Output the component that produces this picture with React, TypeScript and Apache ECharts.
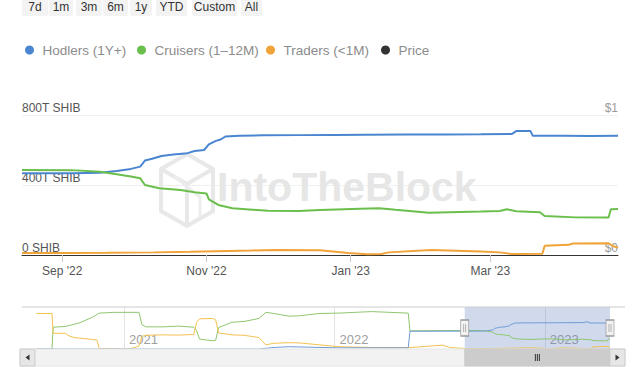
import React, { useEffect, useRef } from "react";
import * as echarts from "echarts";

// ---------- data ----------
const RANGE_BUTTONS = ["7d", "1m", "3m", "6m", "1y", "YTD", "Custom", "All"];
const LEGEND_NAMES = ["Hodlers (1Y+)", "Cruisers (1–12M)", "Traders (<1M)", "Price"];
const SERIES_COLORS = ["#4a86cf", "#6abf4c", "#f0a338", "#333333"];
const NAV_COLORS = ["#6f9bd6", "#8fc66e", "#f2c24e"];

const X_TICKS = ["2022-09-01", "2022-11-01", "2023-01-01", "2023-03-01"];
const NAV_YEAR_TICKS = ["2021-01-01", "2022-01-01", "2023-01-01"];
const Y_LEFT_VALUES = [0, 400, 800];
const Y_LEFT_LABELS = ["0 SHIB", "400T SHIB", "800T SHIB"];
const Y_RIGHT_LABELS = ["$0", "$1"];
const NAV_START = "2020-07-08";

const hodlersDates = ["2022-08-15", "2022-09-05", "2022-09-17", "2022-09-24", "2022-09-30", "2022-10-04", "2022-10-06", "2022-10-09", "2022-10-13", "2022-10-18", "2022-10-24", "2022-10-27", "2022-10-31", "2022-11-02", "2022-11-05", "2022-11-07", "2022-11-09", "2022-11-15", "2022-11-25", "2022-12-10", "2022-12-25", "2023-01-07", "2023-01-25", "2023-02-10", "2023-02-25", "2023-03-10", "2023-03-12", "2023-03-18", "2023-03-19", "2023-04-01", "2023-04-12", "2023-04-24"];
const hodlersValues = [467, 467, 470, 480, 492, 505, 540, 550, 566, 574, 582, 594, 600, 632, 652, 660, 677, 681, 684, 685, 686, 687, 688, 689, 690, 691, 708, 708, 681, 681, 680, 681];

const cruisersDates = ["2022-08-15", "2022-09-05", "2022-09-17", "2022-09-24", "2022-09-30", "2022-10-04", "2022-10-06", "2022-10-12", "2022-10-21", "2022-10-27", "2022-11-01", "2022-11-02", "2022-11-06", "2022-11-12", "2022-11-27", "2022-12-10", "2022-12-19", "2023-01-05", "2023-01-13", "2023-01-20", "2023-02-03", "2023-02-25", "2023-03-05", "2023-03-08", "2023-03-12", "2023-03-22", "2023-03-24", "2023-04-06", "2023-04-20", "2023-04-21", "2023-04-24"];
const cruisersValues = [486, 485, 476, 462, 448, 438, 400, 381, 371, 358, 352, 318, 286, 267, 253, 251, 257, 264, 267, 258, 242, 248, 252, 261, 250, 244, 223, 215, 214, 261, 263];

const tradersDates = ["2022-08-15", "2022-09-01", "2022-09-20", "2022-10-10", "2022-10-25", "2022-11-05", "2022-11-20", "2022-11-30", "2022-12-19", "2022-12-31", "2023-01-08", "2023-01-14", "2023-01-17", "2023-02-04", "2023-02-25", "2023-03-05", "2023-03-10", "2023-03-23", "2023-03-24", "2023-04-03", "2023-04-05", "2023-04-20", "2023-04-22", "2023-04-24"];
const tradersValues = [12, 12, 13, 15, 18, 22, 26, 29, 27, 12, 4, 6, 15, 28, 20, 15, 6, 7, 53, 58, 66, 67, 50, 42];

// navigator history (before the selected range)
const navHodlersDates = ["2020-08-02", "2021-08-23", "2021-09-18", "2021-10-14", "2022-01-09", "2022-05-09", "2022-05-12", "2022-07-08"];
const navHodlersValues = [0, 0, 40, 60, 30, 30, 465, 466];

const navCruisersDates = ["2020-08-02", "2020-08-29", "2020-08-31", "2020-09-21", "2020-10-07", "2020-10-15", "2020-11-07", "2020-11-19", "2020-12-15", "2021-01-27", "2021-02-01", "2021-02-08", "2021-03-11", "2021-04-06", "2021-05-02", "2021-05-07", "2021-05-12", "2021-06-04", "2021-06-09", "2021-06-14", "2021-07-07", "2021-07-28", "2021-08-23", "2021-09-04", "2021-09-18", "2021-10-14", "2021-11-01", "2021-12-05", "2022-01-09", "2022-03-06", "2022-05-09", "2022-05-12", "2022-07-08"];
const navCruisersValues = [0, 0, 570, 590, 650, 680, 830, 940, 960, 960, 640, 580, 580, 600, 570, 480, 260, 215, 230, 560, 700, 720, 800, 960, 930, 860, 870, 930, 940, 980, 940, 475, 482];

const navTradersDates = ["2020-08-02", "2020-08-29", "2020-08-31", "2020-09-21", "2020-09-28", "2020-10-07", "2020-10-15", "2020-11-07", "2020-11-15", "2020-11-19", "2021-01-10", "2021-01-20", "2021-01-27", "2021-02-01", "2021-02-08", "2021-03-11", "2021-04-06", "2021-05-02", "2021-05-07", "2021-05-12", "2021-06-04", "2021-06-09", "2021-06-14", "2021-07-07", "2021-07-28", "2021-08-23", "2021-09-04", "2021-09-18", "2021-10-14", "2021-11-01", "2021-12-05", "2022-01-09", "2022-03-06", "2022-05-09", "2022-07-08", "2022-07-20"];
const navTradersValues = [930, 930, 410, 410, 340, 300, 285, 250, 235, 10, 5, 40, 80, 330, 360, 370, 365, 380, 700, 790, 800, 760, 420, 370, 360, 300, 110, 150, 165, 160, 110, 60, 40, 35, 100, 40];

// ---------- helpers ----------
const ts = (s: string) => {
  const [y, m, d] = s.split("-").map(Number);
  return new Date(y, m - 1, d).getTime();
};
const pairs = (dates: string[], vals: number[]) => dates.map((d, i) => [ts(d), vals[i]]);
const MONTHS = ["Jan", "Feb", "Mar", "Apr", "May", "Jun", "Jul", "Aug", "Sep", "Oct", "Nov", "Dec"];

const REG = "'Liberation Sans', Arial, sans-serif";

export default function App() {
  const ref = useRef<HTMLDivElement>(null);

  useEffect(() => {
    const el = ref.current!;
    const chart = echarts.init(el, null, { renderer: "svg" });

    const selStart = ts(hodlersDates[0]);
    const selEnd = ts(hodlersDates[hodlersDates.length - 1]);

    const mainH = pairs(hodlersDates, hodlersValues);
    const mainC = pairs(cruisersDates, cruisersValues);
    const mainT = pairs(tradersDates, tradersValues);
    const navH = pairs(navHodlersDates, navHodlersValues).concat(mainH);
    const navC = pairs(navCruisersDates, navCruisersValues).concat(mainC);
    const navT = pairs(navTradersDates, navTradersValues).concat(mainT);

    const legendLefts = [20, 132, 261, 376];

    const option: any = {
      animation: false,
      backgroundColor: "#ffffff",
      legend: LEGEND_NAMES.map((n, i) => ({
        data: [n],
        left: legendLefts[i],
        top: 38,
        icon: "circle",
        itemWidth: 16,
        itemHeight: 9,
        selectedMode: false,
        textStyle: { fontFamily: REG, fontSize: 13.5, color: "#8c8c8c" },
      })),
      grid: [
        { left: 22, right: 22, top: 115, height: 140, containLabel: false },
        { left: 22, right: 30, top: 307, height: 42, containLabel: false },
      ],
      xAxis: [
        {
          type: "value",
          gridIndex: 0,
          min: selStart,
          max: selEnd,
          axisLine: { show: true, onZero: false, lineStyle: { color: "#333333", width: 1 } },
          axisTick: { show: true, customValues: X_TICKS.map(ts), length: 7, lineStyle: { color: "#cccccc" } },
          axisLabel: {
            customValues: X_TICKS.map(ts),
            margin: 10,
            fontFamily: REG,
            fontSize: 12,
            color: "#555555",
            formatter: (v: number) => {
              const d = new Date(v);
              return `${MONTHS[d.getMonth()]} '${String(d.getFullYear()).slice(2)}`;
            },
          },
          splitLine: { show: false },
        },
        {
          type: "value",
          gridIndex: 1,
          min: ts(NAV_START),
          max: selEnd,
          axisLine: { show: false, onZero: false },
          axisTick: { show: true, inside: true, customValues: NAV_YEAR_TICKS.map(ts), length: 42, lineStyle: { color: "#e3e3e3" } },
          axisLabel: {
            inside: true,
            customValues: NAV_YEAR_TICKS.map(ts),
            margin: 3,
            align: "left",
            verticalAlign: "bottom",
            padding: [0, 0, 0, 5],
            fontFamily: REG,
            fontSize: 13,
            color: "#a0a0a0",
            formatter: (v: number) => String(new Date(v).getFullYear()),
          },
          splitLine: { show: false },
        },
      ],
      yAxis: [
        {
          type: "value",
          gridIndex: 0,
          min: 0,
          max: 800,
          interval: 400,
          position: "left",
          axisLine: { show: false },
          axisTick: { show: false },
          splitLine: { show: true, lineStyle: { color: "#f0f0f0" } },
          axisLabel: {
            inside: true,
            margin: 0,
            verticalAlign: "bottom",
            align: "left",
            padding: [0, 0, 1, 0],
            fontFamily: REG,
            fontSize: 12,
            color: "#555555",
            formatter: (v: number) => Y_LEFT_LABELS[Y_LEFT_VALUES.indexOf(v)] ?? "",
          },
        },
        {
          type: "value",
          gridIndex: 0,
          min: 0,
          max: 1,
          interval: 1,
          position: "right",
          axisLine: { show: false },
          axisTick: { show: false },
          splitLine: { show: false },
          axisLabel: {
            inside: true,
            margin: 0,
            verticalAlign: "bottom",
            align: "right",
            padding: [0, 0, 1, 0],
            fontFamily: REG,
            fontSize: 12,
            color: "#9a9a9a",
            formatter: (v: number) => Y_RIGHT_LABELS[v] ?? "",
          },
        },
        {
          type: "value",
          gridIndex: 1,
          min: 0,
          max: 1100,
          show: false,
        },
      ],
      series: [
        {
          name: LEGEND_NAMES[0], type: "line", xAxisIndex: 0, yAxisIndex: 0, data: mainH,
          showSymbol: false, z: 4,
          lineStyle: { width: 2, color: SERIES_COLORS[0] }, itemStyle: { color: SERIES_COLORS[0] },
        },
        {
          name: LEGEND_NAMES[1], type: "line", xAxisIndex: 0, yAxisIndex: 0, data: mainC,
          showSymbol: false, z: 4,
          lineStyle: { width: 2, color: SERIES_COLORS[1] }, itemStyle: { color: SERIES_COLORS[1] },
        },
        {
          name: LEGEND_NAMES[2], type: "line", xAxisIndex: 0, yAxisIndex: 0, data: mainT,
          showSymbol: false, z: 4,
          lineStyle: { width: 2, color: SERIES_COLORS[2] }, itemStyle: { color: SERIES_COLORS[2] },
        },
        {
          name: LEGEND_NAMES[3], type: "line", xAxisIndex: 0, yAxisIndex: 1, data: [],
          showSymbol: false,
          lineStyle: { width: 2, color: SERIES_COLORS[3] }, itemStyle: { color: SERIES_COLORS[3] },
        },
        {
          name: "nav-cruisers", type: "line", xAxisIndex: 1, yAxisIndex: 2, data: navC,
          showSymbol: false, silent: true,
          lineStyle: { width: 1, color: NAV_COLORS[1] }, itemStyle: { color: NAV_COLORS[1] },
          markArea: {
            silent: true,
            itemStyle: { color: "rgba(102,133,194,0.3)" },
            data: [[{ xAxis: selStart }, { xAxis: selEnd }]],
          },
        },
        {
          name: "nav-traders", type: "line", xAxisIndex: 1, yAxisIndex: 2, data: navT,
          showSymbol: false, silent: true,
          lineStyle: { width: 1, color: NAV_COLORS[2] }, itemStyle: { color: NAV_COLORS[2] },
        },
        {
          name: "nav-hodlers", type: "line", xAxisIndex: 1, yAxisIndex: 2, data: navH,
          showSymbol: false, silent: true,
          lineStyle: { width: 1, color: NAV_COLORS[0] }, itemStyle: { color: NAV_COLORS[0] },
          markPoint: {
            silent: true,
            symbol: "path://M0,0L8,0L8,16L0,16Z M3,4L3,12 M5,4L5,12",
            symbolSize: [8, 16],
            itemStyle: { color: "#f2f2f2", borderColor: "#999999", borderWidth: 1 },
            label: { show: false },
            data: [{ coord: [selStart, 550] }, { coord: [selEnd, 550] }],
          },
        },
      ],
    };

    chart.setOption(option);

    const x0 = chart.convertToPixel({ xAxisIndex: 1 }, selStart) as number;
    const x1 = chart.convertToPixel({ xAxisIndex: 1 }, selEnd) as number;
    const thumbMid = (x0 + x1) / 2;

    const btnBoxes = [[22, 48], [49, 73], [76, 102], [103, 128], [130, 152], [156, 187], [192, 237], [241, 262]];
    const graphics: any[] = [];
    RANGE_BUTTONS.forEach((b, i) => {
      const [a, c] = btnBoxes[i];
      graphics.push({ type: "rect", shape: { x: a, y: -8, width: c - a, height: 24, r: 2 }, style: { fill: "#f3f3f3" }, z: 1 });
      graphics.push({
        type: "text", x: (a + c) / 2, y: 7, z: 2,
        style: { text: b, fill: "#333333", font: `12px ${REG}`, align: "center", verticalAlign: "middle" },
      });
    });

    // watermark
    const wm = { fill: "none", stroke: "#e8e8e8", lineWidth: 4 };
    graphics.push({ type: "polygon", z: 0, silent: true, shape: { points: [[187, 154], [213, 169], [213, 211], [187, 226], [161, 211], [161, 169]] }, style: wm });
    graphics.push({ type: "polyline", z: 0, silent: true, shape: { points: [[161, 169], [187, 184], [213, 169]] }, style: wm });
    graphics.push({ type: "polyline", z: 0, silent: true, shape: { points: [[187, 184], [187, 226]] }, style: wm });
    graphics.push({ type: "polyline", z: 0, silent: true, shape: { points: [[174, 176], [200, 197], [200, 218]] }, style: { fill: "none", stroke: "#ededed", lineWidth: 3 } });
    graphics.push({
      type: "text", x: 217, y: 187, z: 0, silent: true,
      style: { text: "IntoTheBlock", fill: "#e6e6e6", font: `bold 41px ${REG}`, align: "left", verticalAlign: "middle" },
    });

    // navigator outline and scrollbar
    graphics.push({ type: "line", z: 5, shape: { x1: 22, y1: 307, x2: 625, y2: 307 }, style: { stroke: "#cccccc", lineWidth: 1 } });
    graphics.push({ type: "rect", z: 5, shape: { x: 20, y: 349, width: 605, height: 17 }, style: { fill: "#f2f2f2", stroke: "#e6e6e6", lineWidth: 1 } });
    graphics.push({ type: "rect", z: 6, shape: { x: x0, y: 349, width: x1 - x0, height: 17 }, style: { fill: "#cccccc", stroke: "#cccccc", lineWidth: 1 } });
    [-2, 0, 2].forEach((dx) => {
      graphics.push({ type: "line", z: 7, shape: { x1: thumbMid + dx, y1: 354, x2: thumbMid + dx, y2: 361 }, style: { stroke: "#333333", lineWidth: 1 } });
    });
    graphics.push({ type: "rect", z: 6, shape: { x: 20, y: 349, width: 15, height: 17 }, style: { fill: "#e6e6e6", stroke: "#cccccc", lineWidth: 1 } });
    graphics.push({ type: "polygon", z: 7, shape: { points: [[29.5, 354.5], [29.5, 360.5], [25.5, 357.5]] }, style: { fill: "#333333" } });
    graphics.push({ type: "rect", z: 6, shape: { x: 610, y: 349, width: 15, height: 17 }, style: { fill: "#e6e6e6", stroke: "#cccccc", lineWidth: 1 } });
    graphics.push({ type: "polygon", z: 7, shape: { points: [[615.5, 354.5], [615.5, 360.5], [619.5, 357.5]] }, style: { fill: "#333333" } });

    chart.setOption({ graphic: graphics });

    return () => chart.dispose();
  }, []);

  return <div ref={ref} style={{ position: "fixed", left: 0, top: 0, width: 640, height: 367 }} />;
}
